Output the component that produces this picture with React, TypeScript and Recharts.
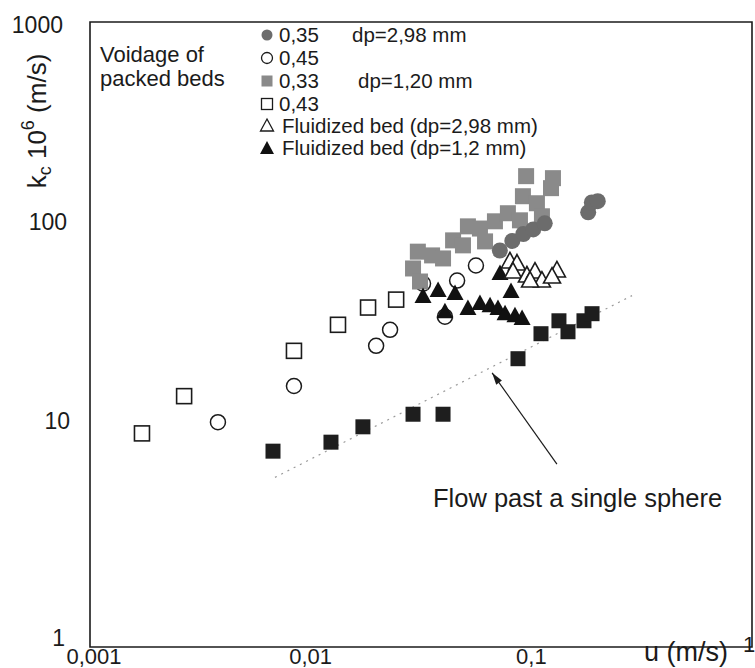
import React from "react";
import { ScatterChart, Scatter, XAxis, YAxis, ReferenceArea } from "recharts";

const FONT = '"Liberation Sans", Arial, Helvetica, sans-serif';

// u (m/s) vs kc*10^6 (m/s)
const packed035 = [
  { x: 0.072, y: 80 },
  { x: 0.082, y: 89 },
  { x: 0.092, y: 96 },
  { x: 0.102, y: 101 },
  { x: 0.115, y: 108 },
  { x: 0.181, y: 122 },
  { x: 0.188, y: 136 },
  { x: 0.2, y: 138 },
];

const packed045 = [
  { x: 0.0038, y: 12 },
  { x: 0.0084, y: 17.9 },
  { x: 0.0198, y: 27.9 },
  { x: 0.0229, y: 33.3 },
  { x: 0.0323, y: 55.5 },
  { x: 0.0406, y: 38.5 },
  { x: 0.0461, y: 57.4 },
  { x: 0.0561, y: 67.8 },
];

const packed033 = [
  { x: 0.0306, y: 79 },
  { x: 0.0291, y: 65.6 },
  { x: 0.0313, y: 56.8 },
  { x: 0.0355, y: 75.8 },
  { x: 0.0398, y: 73.3 },
  { x: 0.0442, y: 89.5 },
  { x: 0.049, y: 84.7 },
  { x: 0.0516, y: 104.5 },
  { x: 0.0585, y: 102 },
  { x: 0.0617, y: 88.5 },
  { x: 0.0684, y: 110.5 },
  { x: 0.0783, y: 120.8 },
  { x: 0.0888, y: 111.7 },
  { x: 0.0916, y: 145.8 },
  { x: 0.106, y: 134.9 },
  { x: 0.1117, y: 116.8 },
  { x: 0.0947, y: 182 },
  { x: 0.1228, y: 159.4 },
  { x: 0.1253, y: 178 },
];

const packed043 = [
  { x: 0.00172, y: 10.6 },
  { x: 0.00267, y: 16 },
  { x: 0.0084, y: 26.4 },
  { x: 0.0133, y: 35.2 },
  { x: 0.0182, y: 42.6 },
  { x: 0.0244, y: 46.5 },
];

const fluid298 = [
  { x: 0.08, y: 70.9 },
  { x: 0.0861, y: 69.3 },
  { x: 0.0826, y: 63.4 },
  { x: 0.0955, y: 60.7 },
  { x: 0.1039, y: 63.4 },
  { x: 0.1117, y: 57.4 },
  { x: 0.0987, y: 57.4 },
  { x: 0.1306, y: 64.2 },
  { x: 0.1241, y: 60 },
];

const fluid12 = [
  { x: 0.0323, y: 48.1 },
  { x: 0.0378, y: 51.4 },
  { x: 0.0451, y: 49.7 },
  { x: 0.0406, y: 40.7 },
  { x: 0.0516, y: 42.1 },
  { x: 0.0585, y: 44.5 },
  { x: 0.065, y: 43.5 },
  { x: 0.0706, y: 42.1 },
  { x: 0.0721, y: 62.1 },
  { x: 0.0809, y: 50.8 },
  { x: 0.076, y: 39.8 },
  { x: 0.0843, y: 38.9 },
  { x: 0.0908, y: 37.7 },
];

const darkSquares = [
  { x: 0.00675, y: 8.71 },
  { x: 0.01236, y: 9.62 },
  { x: 0.01725, y: 11.4 },
  { x: 0.0291, y: 13.1 },
  { x: 0.0398, y: 13.1 },
  { x: 0.087, y: 24.2 },
  { x: 0.1106, y: 31.9 },
  { x: 0.1334, y: 36.8 },
  { x: 0.1466, y: 32.6 },
  { x: 0.1732, y: 36.8 },
  { x: 0.1884, y: 39.8 },
];

// correlation for flow past a single sphere
const sphereLine = [
  { x: 0.00689, y: 6.52 },
  { x: 0.286, y: 48.6 },
];

// annotation arrow: tail near the text, tip on the line
const arrowLine = [
  { x: 0.1306, y: 7.54 },
  { x: 0.0664, y: 20.7 },
];
const arrowTip = [{ x: 0.0664, y: 20.7 }];

const xTicks = [0.001, 0.01, 0.1, 1];
const yTicks = [1, 10, 100, 1000];

const fmt = (v: number) => String(v).replace(".", ",");

const INK = "#1b1b1b";

const OpenSquare = ({ cx, cy }: any) => (
  <rect x={cx - 7.5} y={cy - 7.5} width={15} height={15} fill="#fff" stroke={INK} strokeWidth={1.6} />
);
const OpenCircle = ({ cx, cy }: any) => (
  <circle cx={cx} cy={cy} r={7.5} fill="#fff" stroke={INK} strokeWidth={1.5} />
);
const GraySquare = ({ cx, cy }: any) => (
  <rect x={cx - 8} y={cy - 8} width={16} height={16} fill="#8a8a8a" />
);
const GrayCircle = ({ cx, cy }: any) => <circle cx={cx} cy={cy} r={8} fill="#6c6c6c" />;
const DarkSquare = ({ cx, cy }: any) => (
  <rect x={cx - 7.5} y={cy - 7.5} width={15} height={15} fill="#1e1e1e" />
);
const triPoints = (cx: number, cy: number) =>
  `${cx},${cy - 9} ${cx + 8.5},${cy + 6.5} ${cx - 8.5},${cy + 6.5}`;
const OpenTriangle = ({ cx, cy }: any) => (
  <polygon points={triPoints(cx, cy)} fill="#fff" stroke={INK} strokeWidth={1.6} strokeLinejoin="miter" />
);
const FilledTriangle = ({ cx, cy }: any) => <polygon points={triPoints(cx, cy)} fill="#111" />;
const NoMark = () => <g />;
const ArrowHead = ({ cx, cy }: any) => {
  // direction of the arrow, pointing up-left
  const ux = -0.581;
  const uy = -0.814;
  const bx = cx - 12 * ux;
  const by = cy - 12 * uy;
  const px = -uy * 3.5;
  const py = ux * 3.5;
  return <polygon points={`${cx},${cy} ${bx + px},${by + py} ${bx - px},${by - py}`} fill={INK} />;
};

const yTickShift: Record<number, [number, number]> = {
  1000: [-6, 3],
  100: [-2, -8],
  10: [1, -18],
  1: [-4, -9],
};

const XTick = ({ x, y, payload }: any) => {
  const v = payload.value;
  const top = v === 1;
  return (
    <text
      x={v === 0.001 ? x + 4 : top ? x - 3 : x}
      y={top ? y + 5 : y + 17}
      textAnchor="middle"
      fontFamily={FONT}
      fontSize={22}
      fill={INK}
    >
      {fmt(v)}
    </text>
  );
};

const YTick = ({ x, y, payload }: any) => {
  const v = payload.value;
  const [dx, dy] = yTickShift[v] || [0, 0];
  return (
    <text x={x - 21 + dx} y={y + 8 + dy} textAnchor="end" fontFamily={FONT} fontSize={23} fill={INK}>
      {fmt(v)}
    </text>
  );
};

const legendRows = [
  { mark: "grayCircle", label: "0,35", y: 35 },
  { mark: "openCircle", label: "0,45", y: 58 },
  { mark: "graySquare", label: "0,33", y: 81 },
  { mark: "openSquare", label: "0,43", y: 104 },
  { mark: "openTri", label: "Fluidized bed (dp=2,98 mm)", y: 126 },
  { mark: "fillTri", label: "Fluidized bed (dp=1,2 mm)", y: 148 },
];

function LegendMark({ kind, x, y }: { kind: string; x: number; y: number }) {
  const s = 5.5;
  switch (kind) {
    case "grayCircle":
      return <circle cx={x} cy={y} r={s} fill="#6c6c6c" />;
    case "openCircle":
      return <circle cx={x} cy={y} r={s} fill="#fff" stroke={INK} strokeWidth={1.3} />;
    case "graySquare":
      return <rect x={x - s} y={y - s} width={2 * s} height={2 * s} fill="#8a8a8a" />;
    case "openSquare":
      return <rect x={x - s} y={y - s} width={2 * s} height={2 * s} fill="#fff" stroke={INK} strokeWidth={1.3} />;
    case "openTri":
      return (
        <polygon
          points={`${x},${y - 7} ${x + 6.5},${y + 5} ${x - 6.5},${y + 5}`}
          fill="#fff"
          stroke={INK}
          strokeWidth={1.3}
        />
      );
    default:
      return <polygon points={`${x},${y - 7} ${x + 7},${y + 6} ${x - 7},${y + 6}`} fill="#111" />;
  }
}

function Overlay() {
  return (
    <svg
      width={755}
      height={668}
      style={{ position: "absolute", left: 0, top: 0, pointerEvents: "none" }}
      fontFamily={FONT}
      fill={INK}
    >
      <text x={100} y={62} fontSize={22}>Voidage of</text>
      <text x={100} y={86} fontSize={22}>packed beds</text>
      {legendRows.map((r) => (
        <g key={r.label}>
          <LegendMark kind={r.mark} x={267} y={r.y} />
          <text x={r.mark.endsWith("Tri") ? 282 : 279} y={r.y + 7} fontSize={20.5}>
            {r.label}
          </text>
        </g>
      ))}
      <text x={352} y={42} fontSize={20.5}>dp=2,98 mm</text>
      <text x={358} y={88} fontSize={20.5}>dp=1,20 mm</text>

      <text x={433} y={507} fontSize={25.5}>Flow past a single sphere</text>

      <text x={644} y={661} fontSize={27}>u (m/s)</text>

      <text transform="rotate(-90 46 121)" x={46} y={121} textAnchor="middle" fontSize={26}>
        k<tspan fontSize={18} dy={5}>c</tspan>
        <tspan dy={-5}> 10</tspan>
        <tspan fontSize={18} dy={-12}>6</tspan>
        <tspan dy={12}> (m/s)</tspan>
      </text>
    </svg>
  );
}

export default function App() {
  return (
    <div style={{ position: "absolute", left: 0, top: 0, width: 755, height: 668, background: "#fff" }}>
      <ScatterChart width={755} height={668} margin={{ top: 22, right: 3, bottom: 0, left: 0 }}>
        <XAxis
          type="number"
          dataKey="x"
          scale="log"
          domain={[0.001, 1]}
          ticks={xTicks}
          allowDataOverflow
          axisLine={false}
          tickLine={false}
          tickSize={0}
          tickMargin={0}
          height={21}
          interval={0}
          tick={<XTick />}
        />
        <YAxis
          type="number"
          dataKey="y"
          scale="log"
          domain={[1, 1000]}
          ticks={yTicks}
          allowDataOverflow
          axisLine={false}
          tickLine={false}
          tickSize={0}
          tickMargin={0}
          width={90}
          interval={0}
          tick={<YTick />}
        />
        <ReferenceArea x1={0.001} x2={1} y1={1} y2={1000} fill="none" stroke={INK} strokeWidth={1.6} />
        <Scatter
          data={sphereLine}
          line={{ stroke: "#9a9a9a", strokeWidth: 1.2, strokeDasharray: "2 5" }}
          shape={NoMark}
          isAnimationActive={false}
        />
        <Scatter
          data={arrowLine}
          line={{ stroke: INK, strokeWidth: 1.2 }}
          shape={NoMark}
          isAnimationActive={false}
        />
        <Scatter data={arrowTip} shape={ArrowHead} isAnimationActive={false} />
        <Scatter data={packed043} shape={OpenSquare} isAnimationActive={false} />
        <Scatter data={packed045} shape={OpenCircle} isAnimationActive={false} />
        <Scatter data={packed033} shape={GraySquare} isAnimationActive={false} />
        <Scatter data={packed035} shape={GrayCircle} isAnimationActive={false} />
        <Scatter data={fluid12} shape={FilledTriangle} isAnimationActive={false} />
        <Scatter data={fluid298} shape={OpenTriangle} isAnimationActive={false} />
        <Scatter data={darkSquares} shape={DarkSquare} isAnimationActive={false} />
      </ScatterChart>
      <Overlay />
    </div>
  );
}
